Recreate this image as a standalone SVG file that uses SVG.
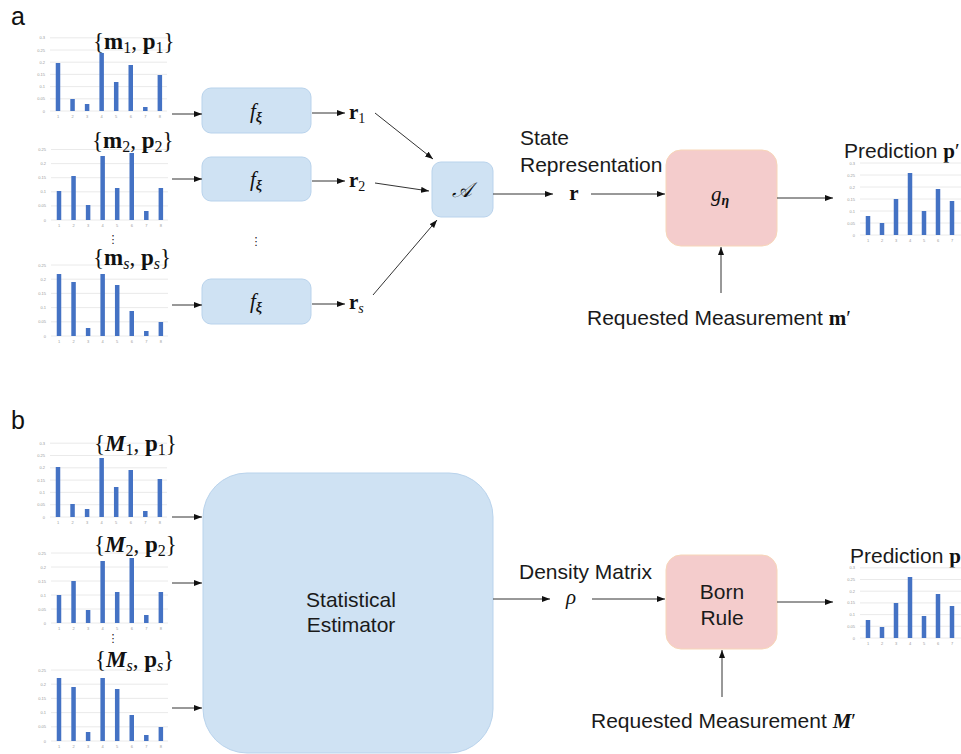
<svg xmlns="http://www.w3.org/2000/svg" width="961" height="754" viewBox="0 0 961 754">
<defs>
<style>
.grid{stroke:#e4e4e4;stroke-width:0.8;fill:none}
.bar{fill:#4472c4}
.tick{font-family:"Liberation Sans",Arial,sans-serif;font-size:4px;fill:#9a9a9a}
.xt{text-anchor:middle}
.yt{text-anchor:end}
.lbl{font-family:"Liberation Sans",Arial,sans-serif;font-size:21px;fill:#1a1a1a}
.panel{font-family:"Liberation Sans",Arial,sans-serif;font-size:25px;fill:#111}
.math{font-family:"Liberation Serif","DejaVu Serif",serif;font-size:21px;fill:#111}
.ttl{font-family:"Liberation Serif","DejaVu Serif",serif;font-size:23px;fill:#111}
.bf{font-weight:bold}
.it{font-style:italic}
.blue{fill:#cfe2f3;stroke:#b9d3ec;stroke-width:1}
.pink{fill:#f4cccc;stroke:#f7d6b8;stroke-width:1}
.conn line{stroke:#333;stroke-width:1;fill:none;marker-end:url(#ah)}
.dots{font-family:"DejaVu Sans",sans-serif;font-size:11px;fill:#111;text-anchor:middle}
</style>
<marker id="ah" viewBox="0 0 8 6" refX="8" refY="3" markerWidth="8" markerHeight="6" markerUnits="userSpaceOnUse" orient="auto">
<path d="M0,0 L8,3 L0,6 z" fill="#111"/>
</marker>
</defs>
<rect width="961" height="754" fill="#fff"/>

<text class="panel" x="11" y="25">a</text>
<text class="panel" x="11" y="429">b</text>

<!-- Panel a charts -->
<g id="chart-a1" transform="translate(0,111)">
<path class="grid" d="M50 0H167M50 -12.2H167M50 -24.4H167M50 -36.6H167M50 -48.8H167M50 -61H167M50 -73.2H167"/>
<g class="tick yt"><text x="45" y="1.5">0</text><text x="45" y="-10.7">0.05</text><text x="45" y="-22.9">0.1</text><text x="45" y="-35.1">0.15</text><text x="45" y="-47.3">0.2</text><text x="45" y="-59.5">0.25</text><text x="45" y="-71.7">0.3</text></g>
<g class="bar"><rect x="55.75" y="-48" width="4.5" height="48"/><rect x="70.3" y="-12" width="4.5" height="12"/><rect x="84.85" y="-7" width="4.5" height="7"/><rect x="99.4" y="-58" width="4.5" height="58"/><rect x="113.95" y="-29" width="4.5" height="29"/><rect x="128.5" y="-46" width="4.5" height="46"/><rect x="143.05" y="-4" width="4.5" height="4"/><rect x="157.6" y="-36" width="4.5" height="36"/></g>
<g class="tick xt"><text x="58" y="7">1</text><text x="72.55" y="7">2</text><text x="87.1" y="7">3</text><text x="101.65" y="7">4</text><text x="116.2" y="7">5</text><text x="130.75" y="7">6</text><text x="145.3" y="7">7</text><text x="159.85" y="7">8</text></g>
</g>
<text class="ttl" x="93" y="49">{<tspan class="bf">m</tspan><tspan dy="4" font-size="16">1</tspan><tspan dy="-4">, </tspan><tspan class="bf">p</tspan><tspan dy="4" font-size="16">1</tspan><tspan dy="-4">}</tspan></text>

<g id="chart-a2" transform="translate(1,220)">
<path class="grid" d="M50 0H167M50 -14.1H167M50 -28.2H167M50 -42.3H167M50 -56.4H167M50 -70.5H167"/>
<g class="tick yt"><text x="45" y="1.5">0</text><text x="45" y="-12.6">0.05</text><text x="45" y="-26.7">0.1</text><text x="45" y="-40.8">0.15</text><text x="45" y="-54.9">0.2</text><text x="45" y="-69">0.25</text></g>
<g class="bar"><rect x="55.75" y="-29" width="4.5" height="29"/><rect x="70.3" y="-44" width="4.5" height="44"/><rect x="84.85" y="-15" width="4.5" height="15"/><rect x="99.4" y="-64" width="4.5" height="64"/><rect x="113.95" y="-32" width="4.5" height="32"/><rect x="128.5" y="-67" width="4.5" height="67"/><rect x="143.05" y="-9" width="4.5" height="9"/><rect x="157.6" y="-32" width="4.5" height="32"/></g>
<g class="tick xt"><text x="58" y="7">1</text><text x="72.55" y="7">2</text><text x="87.1" y="7">3</text><text x="101.65" y="7">4</text><text x="116.2" y="7">5</text><text x="130.75" y="7">6</text><text x="145.3" y="7">7</text><text x="159.85" y="7">8</text></g>
</g>
<text class="ttl" x="92" y="148">{<tspan class="bf">m</tspan><tspan dy="4" font-size="16">2</tspan><tspan dy="-4">, </tspan><tspan class="bf">p</tspan><tspan dy="4" font-size="16">2</tspan><tspan dy="-4">}</tspan></text>
<text class="dots" x="113" y="243">⋮</text>

<g id="chart-as" transform="translate(1,336)">
<path class="grid" d="M50 0H167M50 -14.2H167M50 -28.4H167M50 -42.6H167M50 -56.8H167M50 -71H167"/>
<g class="tick yt"><text x="45" y="1.5">0</text><text x="45" y="-12.7">0.05</text><text x="45" y="-26.9">0.1</text><text x="45" y="-41.1">0.15</text><text x="45" y="-55.3">0.2</text><text x="45" y="-69.5">0.25</text></g>
<g class="bar"><rect x="55.75" y="-62" width="4.5" height="62"/><rect x="70.3" y="-54" width="4.5" height="54"/><rect x="84.85" y="-8" width="4.5" height="8"/><rect x="99.4" y="-62" width="4.5" height="62"/><rect x="113.95" y="-51" width="4.5" height="51"/><rect x="128.5" y="-25" width="4.5" height="25"/><rect x="143.05" y="-5" width="4.5" height="5"/><rect x="157.6" y="-14" width="4.5" height="14"/></g>
<g class="tick xt"><text x="58" y="7">1</text><text x="72.55" y="7">2</text><text x="87.1" y="7">3</text><text x="101.65" y="7">4</text><text x="116.2" y="7">5</text><text x="130.75" y="7">6</text><text x="145.3" y="7">7</text><text x="159.85" y="7">8</text></g>
</g>
<text class="ttl" x="93" y="265">{<tspan class="bf">m</tspan><tspan dy="4" font-size="16" class="it">s</tspan><tspan dy="-4">, </tspan><tspan class="bf">p</tspan><tspan dy="4" font-size="16" class="it">s</tspan><tspan dy="-4">}</tspan></text>

<!-- Panel a nodes -->
<g id="f1"><rect class="blue" x="202" y="88" width="109" height="45" rx="9"/><text class="math" x="256" y="118" text-anchor="middle"><tspan class="it">f</tspan><tspan dy="4" font-size="14" class="it bf">ξ</tspan></text></g>
<g id="f2"><rect class="blue" x="202" y="157" width="109" height="44" rx="9"/><text class="math" x="256" y="186" text-anchor="middle"><tspan class="it">f</tspan><tspan dy="4" font-size="14" class="it bf">ξ</tspan></text></g>
<text class="dots" x="256" y="245">⋮</text>
<g id="f3"><rect class="blue" x="202" y="279" width="109" height="45" rx="9"/><text class="math" x="256" y="308" text-anchor="middle"><tspan class="it">f</tspan><tspan dy="4" font-size="14" class="it bf">ξ</tspan></text></g>

<text class="math" x="349" y="119"><tspan class="bf">r</tspan><tspan dy="4" font-size="14">1</tspan></text>
<text class="math" x="349" y="187"><tspan class="bf">r</tspan><tspan dy="4" font-size="14">2</tspan></text>
<text class="math" x="349" y="309"><tspan class="bf">r</tspan><tspan dy="4" font-size="14" class="it">s</tspan></text>

<g id="agg"><rect class="blue" x="432" y="162" width="61" height="55" rx="9"/><text class="math it" x="462" y="197" text-anchor="middle" font-size="19">𝒜</text></g>

<text class="lbl" x="520" y="145">State</text>
<text class="lbl" x="520" y="172">Representation</text>
<text class="math bf" x="574" y="200" text-anchor="middle">r</text>

<g id="g-eta"><rect class="pink" x="666" y="150" width="111" height="96" rx="15"/><text class="math" x="720" y="201" text-anchor="middle"><tspan class="it">g</tspan><tspan dy="4" font-size="14" class="it bf">η</tspan></text></g>

<text class="lbl" x="844" y="158">Prediction <tspan class="math bf" font-size="21">p</tspan><tspan class="math" font-size="21">′</tspan></text>

<g id="chart-pa" transform="translate(0,235)">
<path class="grid" d="M860 0H961M860 -12H961M860 -24H961M860 -36H961M860 -48H961M860 -60H961M860 -72H961"/>
<g class="tick yt"><text x="855" y="1.5">0</text><text x="855" y="-10.5">0.05</text><text x="855" y="-22.5">0.1</text><text x="855" y="-34.5">0.15</text><text x="855" y="-46.5">0.2</text><text x="855" y="-58.5">0.25</text><text x="855" y="-70.5">0.3</text></g>
<g class="bar"><rect x="865.75" y="-19" width="4.5" height="19"/><rect x="879.75" y="-12" width="4.5" height="12"/><rect x="893.75" y="-36" width="4.5" height="36"/><rect x="907.75" y="-62" width="4.5" height="62"/><rect x="921.75" y="-24" width="4.5" height="24"/><rect x="935.75" y="-46" width="4.5" height="46"/><rect x="949.75" y="-34" width="4.5" height="34"/></g>
<g class="tick xt"><text x="868" y="7">1</text><text x="882" y="7">2</text><text x="896" y="7">3</text><text x="910" y="7">4</text><text x="924" y="7">5</text><text x="938" y="7">6</text><text x="952" y="7">7</text></g>
</g>

<text class="lbl" x="587" y="325">Requested Measurement <tspan class="math bf" font-size="21">m</tspan><tspan class="math" font-size="21">′</tspan></text>

<!-- Panel b charts -->
<g id="chart-b1" transform="translate(0,517)">
<path class="grid" d="M50 0H167M50 -12.3H167M50 -24.6H167M50 -36.9H167M50 -49.2H167M50 -61.5H167M50 -73.8H167"/>
<g class="tick yt"><text x="45" y="1.5">0</text><text x="45" y="-10.8">0.05</text><text x="45" y="-23.1">0.1</text><text x="45" y="-35.4">0.15</text><text x="45" y="-47.7">0.2</text><text x="45" y="-60">0.25</text><text x="45" y="-72.3">0.3</text></g>
<g class="bar"><rect x="55.75" y="-50" width="4.5" height="50"/><rect x="70.3" y="-13" width="4.5" height="13"/><rect x="84.85" y="-8" width="4.5" height="8"/><rect x="99.4" y="-59" width="4.5" height="59"/><rect x="113.95" y="-30" width="4.5" height="30"/><rect x="128.5" y="-47" width="4.5" height="47"/><rect x="143.05" y="-6" width="4.5" height="6"/><rect x="157.6" y="-38" width="4.5" height="38"/></g>
<g class="tick xt"><text x="58" y="7">1</text><text x="72.55" y="7">2</text><text x="87.1" y="7">3</text><text x="101.65" y="7">4</text><text x="116.2" y="7">5</text><text x="130.75" y="7">6</text><text x="145.3" y="7">7</text><text x="159.85" y="7">8</text></g>
</g>
<text class="ttl" x="94" y="451">{<tspan class="bf it">M</tspan><tspan dy="4" font-size="16">1</tspan><tspan dy="-4">, </tspan><tspan class="bf">p</tspan><tspan dy="4" font-size="16">1</tspan><tspan dy="-4">}</tspan></text>

<g id="chart-b2" transform="translate(1,623)">
<path class="grid" d="M50 0H167M50 -14H167M50 -28H167M50 -42H167M50 -56H167M50 -70H167"/>
<g class="tick yt"><text x="45" y="1.5">0</text><text x="45" y="-12.5">0.05</text><text x="45" y="-26.5">0.1</text><text x="45" y="-40.5">0.15</text><text x="45" y="-54.5">0.2</text><text x="45" y="-68.5">0.25</text></g>
<g class="bar"><rect x="55.75" y="-28" width="4.5" height="28"/><rect x="70.3" y="-42" width="4.5" height="42"/><rect x="84.85" y="-13" width="4.5" height="13"/><rect x="99.4" y="-62" width="4.5" height="62"/><rect x="113.95" y="-31" width="4.5" height="31"/><rect x="128.5" y="-65" width="4.5" height="65"/><rect x="143.05" y="-8" width="4.5" height="8"/><rect x="157.6" y="-31" width="4.5" height="31"/></g>
<g class="tick xt"><text x="58" y="7">1</text><text x="72.55" y="7">2</text><text x="87.1" y="7">3</text><text x="101.65" y="7">4</text><text x="116.2" y="7">5</text><text x="130.75" y="7">6</text><text x="145.3" y="7">7</text><text x="159.85" y="7">8</text></g>
</g>
<text class="ttl" x="94" y="552">{<tspan class="bf it">M</tspan><tspan dy="4" font-size="16">2</tspan><tspan dy="-4">, </tspan><tspan class="bf">p</tspan><tspan dy="4" font-size="16">2</tspan><tspan dy="-4">}</tspan></text>
<text class="dots" x="113" y="642">⋮</text>

<g id="chart-bs" transform="translate(1,741)">
<path class="grid" d="M50 0H167M50 -14.2H167M50 -28.4H167M50 -42.6H167M50 -56.8H167M50 -71H167"/>
<g class="tick yt"><text x="45" y="1.5">0</text><text x="45" y="-12.7">0.05</text><text x="45" y="-26.9">0.1</text><text x="45" y="-41.1">0.15</text><text x="45" y="-55.3">0.2</text><text x="45" y="-69.5">0.25</text></g>
<g class="bar"><rect x="55.75" y="-63" width="4.5" height="63"/><rect x="70.3" y="-54" width="4.5" height="54"/><rect x="84.85" y="-9" width="4.5" height="9"/><rect x="99.4" y="-63" width="4.5" height="63"/><rect x="113.95" y="-52" width="4.5" height="52"/><rect x="128.5" y="-26" width="4.5" height="26"/><rect x="143.05" y="-6" width="4.5" height="6"/><rect x="157.6" y="-14" width="4.5" height="14"/></g>
<g class="tick xt"><text x="58" y="7">1</text><text x="72.55" y="7">2</text><text x="87.1" y="7">3</text><text x="101.65" y="7">4</text><text x="116.2" y="7">5</text><text x="130.75" y="7">6</text><text x="145.3" y="7">7</text><text x="159.85" y="7">8</text></g>
</g>
<text class="ttl" x="95" y="667">{<tspan class="bf it">M</tspan><tspan dy="4" font-size="16" class="it">s</tspan><tspan dy="-4">, </tspan><tspan class="bf">p</tspan><tspan dy="4" font-size="16" class="it">s</tspan><tspan dy="-4">}</tspan></text>

<!-- Panel b nodes -->
<g id="estimator"><rect class="blue" x="203" y="473" width="290" height="280" rx="44"/><text class="lbl" x="351" y="607" text-anchor="middle">Statistical</text><text class="lbl" x="351" y="632" text-anchor="middle">Estimator</text></g>

<text class="lbl" x="519" y="579">Density Matrix</text>
<text class="math it" x="571" y="604" text-anchor="middle">ρ</text>

<g id="born"><rect class="pink" x="666" y="555" width="111" height="94" rx="15"/><text class="lbl" x="722" y="599" text-anchor="middle">Born</text><text class="lbl" x="722" y="625" text-anchor="middle">Rule</text></g>

<text class="lbl" x="850" y="563">Prediction <tspan class="math bf" font-size="21">p</tspan><tspan class="math" font-size="21">′</tspan></text>

<g id="chart-pb" transform="translate(0,638)">
<path class="grid" d="M860 0H961M860 -11.7H961M860 -23.4H961M860 -35.1H961M860 -46.8H961M860 -58.5H961M860 -70.2H961"/>
<g class="tick yt"><text x="855" y="1.5">0</text><text x="855" y="-10.2">0.05</text><text x="855" y="-21.9">0.1</text><text x="855" y="-33.6">0.15</text><text x="855" y="-45.3">0.2</text><text x="855" y="-57">0.25</text><text x="855" y="-68.7">0.3</text></g>
<g class="bar"><rect x="865.75" y="-18" width="4.5" height="18"/><rect x="879.75" y="-11" width="4.5" height="11"/><rect x="893.75" y="-35" width="4.5" height="35"/><rect x="907.75" y="-61" width="4.5" height="61"/><rect x="921.75" y="-22" width="4.5" height="22"/><rect x="935.75" y="-44" width="4.5" height="44"/><rect x="949.75" y="-32" width="4.5" height="32"/></g>
<g class="tick xt"><text x="868" y="7">1</text><text x="882" y="7">2</text><text x="896" y="7">3</text><text x="910" y="7">4</text><text x="924" y="7">5</text><text x="938" y="7">6</text><text x="952" y="7">7</text></g>
</g>

<text class="lbl" x="591" y="728">Requested Measurement <tspan class="math bf it" font-size="21">M</tspan><tspan class="math" font-size="21">′</tspan></text>

<!-- Connectors -->
<g id="connectors" class="conn">
<line x1="172" y1="114" x2="202" y2="114"/>
<line x1="172" y1="179" x2="202" y2="179"/>
<line x1="172" y1="305" x2="202" y2="305"/>
<line x1="312" y1="113" x2="345" y2="113"/>
<line x1="312" y1="181" x2="345" y2="181"/>
<line x1="312" y1="304" x2="345" y2="304"/>
<line x1="375" y1="113" x2="433" y2="159"/>
<line x1="375" y1="183" x2="429" y2="191"/>
<line x1="373" y1="295" x2="437" y2="220"/>
<line x1="493" y1="194" x2="553" y2="194"/>
<line x1="591" y1="194" x2="665" y2="194"/>
<line x1="777" y1="198" x2="833" y2="198"/>
<line x1="721" y1="293" x2="721" y2="247"/>
<line x1="172" y1="517" x2="202" y2="517"/>
<line x1="172" y1="583" x2="202" y2="583"/>
<line x1="172" y1="708" x2="202" y2="708"/>
<line x1="493" y1="599" x2="550" y2="599"/>
<line x1="592" y1="599" x2="665" y2="599"/>
<line x1="777" y1="602" x2="833" y2="602"/>
<line x1="722" y1="697" x2="722" y2="650"/>
</g>
</svg>
